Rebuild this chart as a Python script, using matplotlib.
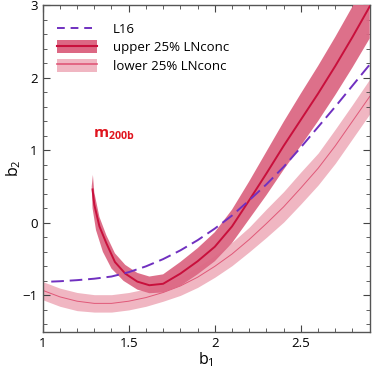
import numpy as np
import matplotlib
matplotlib.use('Agg')
import matplotlib.pyplot as plt
from matplotlib.patches import Patch
from matplotlib.lines import Line2D
from matplotlib.ticker import MultipleLocator

# ---- data ----
# upper 25% LNconc: centre line
up_x = [1.29, 1.30, 1.33, 1.37, 1.42, 1.48, 1.55, 1.62, 1.70, 1.80, 1.90,
        2.00, 2.10, 2.20, 2.30, 2.40, 2.50, 2.60, 2.70, 2.80, 2.90]
up_y = [0.46, 0.25, -0.05, -0.28, -0.54, -0.70, -0.81, -0.86, -0.84, -0.70, -0.53,
        -0.33, -0.05, 0.31, 0.68, 1.06, 1.42, 1.78, 2.16, 2.56, 2.98]
# upper 25% band edges
up_top_x = [1.292, 1.30, 1.33, 1.37, 1.42, 1.48, 1.55, 1.62, 1.70, 1.80, 1.90,
            2.00, 2.10, 2.20, 2.30, 2.40, 2.50, 2.60, 2.70, 2.80, 2.90]
up_top_y = [0.66, 0.42, 0.08, -0.17, -0.42, -0.58, -0.69, -0.74, -0.71, -0.54, -0.35,
            -0.13, 0.18, 0.57, 0.98, 1.39, 1.78, 2.16, 2.56, 2.98, 3.42]
up_bot_x = [1.285, 1.29, 1.31, 1.35, 1.40, 1.47, 1.55, 1.62, 1.70, 1.80, 1.90,
            2.00, 2.10, 2.20, 2.30, 2.40, 2.50, 2.60, 2.70, 2.80, 2.90]
up_bot_y = [0.50, 0.20, -0.10, -0.40, -0.63, -0.80, -0.92, -0.97, -0.96, -0.87, -0.71,
            -0.53, -0.28, 0.05, 0.38, 0.73, 1.06, 1.40, 1.76, 2.14, 2.54]

# lower 25% LNconc
lo_x = [1.0, 1.1, 1.2, 1.3, 1.4, 1.5, 1.6, 1.7, 1.8, 1.9,
        2.0, 2.1, 2.2, 2.3, 2.4, 2.5, 2.6, 2.7, 2.8, 2.9]
lo_y = [-0.93, -1.02, -1.08, -1.11, -1.11, -1.08, -1.03, -0.96, -0.87, -0.75,
        -0.60, -0.43, -0.23, -0.01, 0.22, 0.48, 0.75, 1.06, 1.40, 1.74]
lo_top = [-0.81, -0.90, -0.96, -0.99, -0.99, -0.96, -0.91, -0.84, -0.74, -0.61,
          -0.45, -0.27, -0.06, 0.19, 0.43, 0.70, 0.96, 1.29, 1.63, 1.98]
lo_bot = [-1.06, -1.15, -1.21, -1.23, -1.23, -1.20, -1.15, -1.08, -1.00, -0.89,
          -0.75, -0.59, -0.40, -0.20, 0.01, 0.26, 0.52, 0.82, 1.16, 1.50]

# L16 prediction
l16_x = [1.05, 1.1, 1.2, 1.3, 1.4, 1.5, 1.6, 1.7, 1.8, 1.9,
         2.0, 2.1, 2.2, 2.3, 2.4, 2.5, 2.6, 2.7, 2.8, 2.9]
l16_y = [-0.81, -0.805, -0.79, -0.77, -0.74, -0.68, -0.60, -0.50, -0.38, -0.24,
         -0.08, 0.10, 0.31, 0.53, 0.77, 1.04, 1.32, 1.60, 1.89, 2.18]

# colours
c_up_fill = '#dc6884'
c_up_line = '#c8103c'
c_lo_fill = '#f0b6c2'
c_lo_line = '#e05878'
c_l16 = '#7030c0'

plt.rcParams['font.family'] = ['Open Sans', 'DejaVu Sans']
plt.rcParams['mathtext.fontset'] = 'custom'
plt.rcParams['mathtext.rm'] = 'Open Sans'
plt.rcParams['mathtext.it'] = 'Open Sans:italic'
plt.rcParams['mathtext.bf'] = 'Open Sans:bold'

fig = plt.figure(figsize=(3.74, 3.75), dpi=100)
ax = fig.add_axes([0.114, 0.1155, 0.8745, 0.871])

# lower 25% band
ax.fill_between(lo_x, lo_bot, lo_top, color=c_lo_fill, lw=0, zorder=1)
ax.plot(lo_x, lo_y, color=c_lo_line, lw=0.7, zorder=2)

# upper 25% band (polygon, since it curls up near b1 ~ 1.3)
poly_x = list(up_top_x) + list(up_bot_x[::-1])
poly_y = list(up_top_y) + list(up_bot_y[::-1])
ax.fill(poly_x, poly_y, color=c_up_fill, lw=0, alpha=0.95, zorder=3)
ax.plot(up_x, up_y, color=c_up_line, lw=1.4, zorder=4)

# L16
ax.plot(l16_x, l16_y, color=c_l16, lw=1.4, dashes=(6.5, 3), zorder=5)

ax.text(1.29, 1.22, r'$\mathbf{m_{200b}}$', color='#e0141e', fontsize=11,
        va='center', ha='left')

ax.set_xlim(1, 2.9)
ax.set_ylim(-1.5, 3)
ax.set_xticks([1, 1.5, 2, 2.5])
ax.set_xticklabels(['1', '1.5', '2', '2.5'])
ax.set_yticks([-1, 0, 1, 2, 3])
ax.set_yticklabels(['\u22121', '0', '1', '2', '3'])
ax.xaxis.set_minor_locator(MultipleLocator(0.1))
ax.yaxis.set_minor_locator(MultipleLocator(0.2))
ax.tick_params(which='both', direction='in', top=True, right=True,
               labelsize=9.5, color='#444444')
ax.tick_params(which='major', length=5, width=0.8)
ax.tick_params(which='minor', length=3, width=0.6)
for s in ax.spines.values():
    s.set_color('#555555')
    s.set_linewidth(1.0)

ax.set_xlabel(r'b$_1$', fontsize=11.5)
ax.set_ylabel(r'b$_2$', fontsize=11.5)
ax.xaxis.set_label_coords(0.5, -0.058)
ax.yaxis.set_label_coords(-0.06, 0.5)

h_l16 = Line2D([], [], color=c_l16, lw=1.4, dashes=(4, 3))
h_up = (Patch(facecolor=c_up_fill, lw=0), Line2D([], [], color=c_up_line, lw=1.5))
h_lo = (Patch(facecolor=c_lo_fill, lw=0), Line2D([], [], color=c_lo_line, lw=1.2))
ax.legend([h_l16, h_up, h_lo], ['L16', 'upper 25% LNconc', 'lower 25% LNconc'],
          loc='upper left', bbox_to_anchor=(0.045, 0.948), frameon=False,
          fontsize=9.5, handlelength=3.0, handleheight=1.15, handletextpad=1.2,
          labelspacing=0.32, borderaxespad=0.0, borderpad=0.0)

fig.savefig('out.png', dpi=100)
